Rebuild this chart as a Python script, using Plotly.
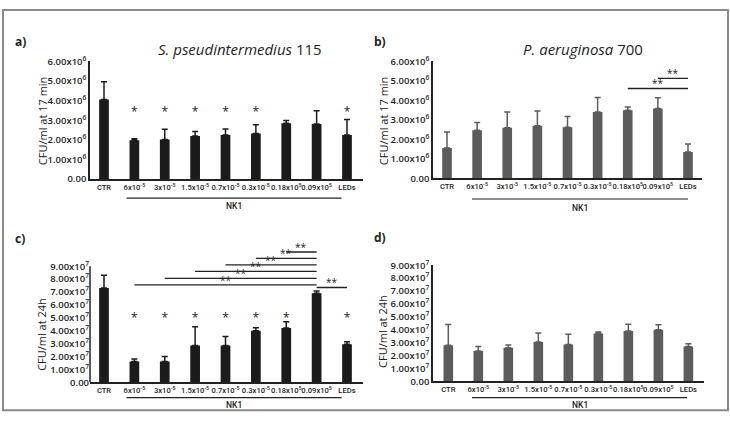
import plotly.graph_objects as go

W, H = 730, 425

categories = ["CTR", "6x10<sup>-5</sup>", "3x10<sup>-5</sup>", "1.5x10<sup>-5</sup>",
              "0.7x10<sup>-5</sup>", "0.3x10<sup>-5</sup>", "0.18x10<sup>5</sup>",
              "0.09x10<sup>5</sup>", "LEDs"]

yticks_17min = [0, 1e6, 2e6, 3e6, 4e6, 5e6, 6e6]
yticktext_17min = ["0.00"] + ["%d.00x10<sup>6</sup>" % i for i in range(1, 7)]
yticks_24h = [i * 1e7 for i in range(10)]
yticktext_24h = ["0.00"] + ["%d.00x10<sup>7</sup>" % i for i in range(1, 10)]

a_values = [4.05e6, 1.98e6, 2.02e6, 2.2e6, 2.25e6, 2.32e6, 2.85e6, 2.8e6, 2.25e6]
a_errors = [0.9e6, 0.08e6, 0.52e6, 0.22e6, 0.3e6, 0.45e6, 0.14e6, 0.68e6, 0.78e6]
a_star_idx = [1, 2, 3, 4, 5, 8]
a_star_level = 3.35e6

b_values = [1.55e6, 2.46e6, 2.59e6, 2.69e6, 2.61e6, 3.4e6, 3.49e6, 3.57e6, 1.34e6]
b_errors = [0.82e6, 0.4e6, 0.81e6, 0.75e6, 0.55e6, 0.74e6, 0.16e6, 0.56e6, 0.41e6]
b_pairs = [(6, 8, 4.6e6), (7, 8, 5.12e6)]

c_values = [7.3e7, 1.6e7, 1.6e7, 2.85e7, 2.85e7, 4.0e7, 4.2e7, 6.9e7, 2.95e7]
c_errors = [1.0e7, 0.2e7, 0.4e7, 1.45e7, 0.7e7, 0.22e7, 0.5e7, 0.17e7, 0.2e7]
c_star_idx = [1, 2, 3, 4, 5, 6, 8]
c_star_level = 4.9e7
c_pairs = [(1, 7, 7.55e7), (2, 7, 8.05e7), (3, 7, 8.6e7), (4, 7, 9.1e7),
           (5, 7, 9.6e7), (6, 7, 10.1e7), (7, 8, 7.35e7)]

d_values = [2.8e7, 2.35e7, 2.6e7, 3.05e7, 2.85e7, 3.7e7, 3.9e7, 4.0e7, 2.7e7]
d_errors = [1.6e7, 0.35e7, 0.22e7, 0.7e7, 0.8e7, 0.13e7, 0.53e7, 0.38e7, 0.22e7]

DARK = "#1b1b1b"
GREY = "#5c5c5c"
TXT = "#1e1e1e"
FONT = "Open Sans"
NARROW = "Roboto"


def fx(p):
    return p / W


def fy(p):
    return 1 - p / H


xs = list(range(len(categories)))
fig = go.Figure()

panels = [
    ("a", a_values, a_errors, DARK, "x", "y"),
    ("b", b_values, b_errors, GREY, "x2", "y2"),
    ("c", c_values, c_errors, DARK, "x3", "y3"),
    ("d", d_values, d_errors, GREY, "x4", "y4"),
]
for name, vals, errs, col, xa, ya in panels:
    fig.add_trace(go.Bar(
        x=xs, y=vals, width=0.32, marker=dict(color=col, line=dict(width=0)),
        error_y=dict(type="data", symmetric=False, array=errs,
                     arrayminus=[0] * len(errs), color=col, thickness=1.5, width=3),
        xaxis=xa, yaxis=ya, showlegend=False, hoverinfo="skip"))

# single stars
for idx, level, xa, ya in [(a_star_idx, a_star_level, "x", "y"),
                           (c_star_idx, c_star_level, "x3", "y3")]:
    fig.add_trace(go.Scatter(
        x=idx, y=[level] * len(idx), mode="text", text=["*"] * len(idx),
        textfont=dict(family=FONT, size=12, color=TXT), textposition="middle center",
        xaxis=xa, yaxis=ya, showlegend=False, hoverinfo="skip", cliponaxis=False))

shapes = []
annotations = []

# significance brackets
for pairs, xr, yr in [(b_pairs, "x2", "y2"), (c_pairs, "x3", "y3")]:
    for i0, i1, lev in pairs:
        shapes.append(dict(type="line", xref=xr, yref=yr, x0=i0, x1=i1, y0=lev, y1=lev,
                           line=dict(color="#222", width=1.3)))
        annotations.append(dict(xref=xr, yref=yr, x=(i0 + i1) / 2, y=lev, text="**",
                                showarrow=False, xanchor="center", yanchor="bottom", yshift=-4,
                                font=dict(family=FONT, size=10, color="#222")))

axis_common = dict(showgrid=False, zeroline=False, ticks="", mirror=False)
xlayout = dict(axis_common, tickmode="array", tickvals=xs, ticktext=categories,
               tickangle=0, showline=True, linecolor="#222", linewidth=1.5,
               tickfont=dict(family=NARROW, size=7.6, color=TXT, weight=500))
ylayout = dict(axis_common, tickmode="array", showline=True, linecolor="#222",
               linewidth=1.5, tickfont=dict(family=FONT, size=9.5, color=TXT, weight=600))

fig.update_layout(
    width=W, height=H, margin=dict(l=0, r=0, t=0, b=0),
    paper_bgcolor="white", plot_bgcolor="white",
    xaxis=dict(xlayout, domain=[fx(90), fx(363)], range=[-0.461, 8.527], anchor="y"),
    yaxis=dict(ylayout, domain=[fy(177), fy(55)], range=[0, 6e6], anchor="x",
               tickvals=yticks_17min, ticktext=yticktext_17min),
    xaxis2=dict(xlayout, domain=[fx(433), fx(702)], range=[-0.465, 8.465], anchor="y2"),
    yaxis2=dict(ylayout, domain=[fy(176), fy(55)], range=[0, 6e6], anchor="x2",
                tickvals=yticks_17min, ticktext=yticktext_17min),
    xaxis3=dict(xlayout, domain=[fx(90), fx(363)], range=[-0.461, 8.527], anchor="y3"),
    yaxis3=dict(ylayout, domain=[fy(387), fy(387 - 120 * 10.6 / 9)], range=[0, 10.6e7],
                anchor="x3", showline=False, tickvals=yticks_24h, ticktext=yticktext_24h),
    xaxis4=dict(xlayout, domain=[fx(433), fx(704)], range=[-0.51, 8.52], anchor="y4"),
    yaxis4=dict(ylayout, domain=[fy(386), fy(266)], range=[0, 9e7], anchor="x4",
                tickvals=yticks_24h, ticktext=yticktext_24h),
)

# y-axis line for panel c, up to the top tick only
shapes.append(dict(type="line", xref="x3 domain", yref="y3", x0=0, x1=0, y0=0, y1=9e7,
                   line=dict(color="#222", width=1.5)))

# NK1 group lines and labels
for x0, x1, ly, ty in [(126.5, 341.5, 196.5, 205), (472, 688, 197.5, 207),
                       (126.5, 341.5, 403, 410.5), (472, 687, 403, 410.5)]:
    shapes.append(dict(type="line", xref="paper", yref="paper", x0=fx(x0), x1=fx(x1),
                       y0=fy(ly), y1=fy(ly), line=dict(color="#222", width=1.2)))
    annotations.append(dict(xref="paper", yref="paper", x=fx((x0 + x1) / 2), y=fy(ty),
                            text="NK1", showarrow=False, xanchor="center", yanchor="middle",
                            font=dict(family=NARROW, size=8.5, color=TXT, weight=500)))

# titles
annotations.append(dict(xref="paper", yref="paper", x=fx(240), y=fy(42),
                        text="<i>S. pseudintermedius</i> 115", showarrow=False,
                        xanchor="center", yanchor="middle",
                        font=dict(family=FONT, size=15, color=TXT)))
annotations.append(dict(xref="paper", yref="paper", x=fx(583), y=fy(42),
                        text="<i>P. aeruginosa</i> 700", showarrow=False,
                        xanchor="center", yanchor="middle",
                        font=dict(family=FONT, size=15, color=TXT)))

# panel letters
for t, x, y in [("a)", 20, 35), ("b)", 380, 35), ("c)", 20, 238), ("d)", 380, 237)]:
    annotations.append(dict(xref="paper", yref="paper", x=fx(x), y=fy(y), text=t,
                            showarrow=False, xanchor="center", yanchor="middle",
                            font=dict(family=FONT, size=12, color=TXT, weight=700)))

# y-axis titles
for t, x, y in [("CFU/ml at 17 min", 42, 117), ("CFU/ml at 17 min", 383, 117),
                ("CFU/ml at 24h", 42, 338), ("CFU/ml at 24h", 383, 335)]:
    annotations.append(dict(xref="paper", yref="paper", x=fx(x), y=fy(y), text=t,
                            textangle=-90, showarrow=False, xanchor="center", yanchor="middle",
                            font=dict(family=FONT, size=11, color=TXT)))

# outer frame
shapes.append(dict(type="rect", xref="paper", yref="paper", x0=fx(3), x1=fx(728),
                   y0=fy(416), y1=fy(2), line=dict(color="#8a8a8a", width=2)))

fig.update_layout(shapes=shapes, annotations=annotations)
fig.write_html("out.html")
